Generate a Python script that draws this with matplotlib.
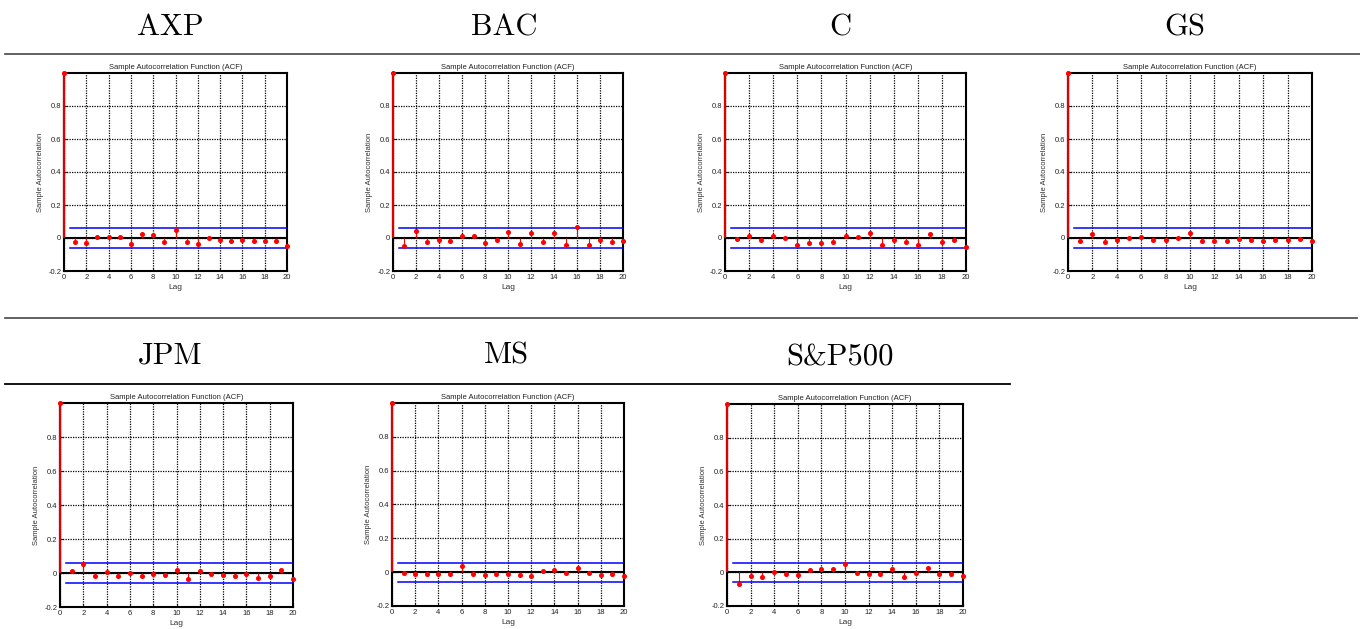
import matplotlib
matplotlib.use('Agg')
from matplotlib import pyplot as plt
from matplotlib.lines import Line2D

plt.rcParams['font.family'] = ['Liberation Sans', 'DejaVu Sans']

lags = list(range(0, 21))

names = ['AXP', 'BAC', 'C', 'GS', 'JPM', 'MS', 'S&P500']

acf_axp = [1.0, -0.022, -0.030, 0.004, 0.008, 0.008, -0.036, 0.024, 0.020, -0.026, 0.046,
           -0.026, -0.038, 0.002, -0.012, -0.016, -0.010, -0.018, -0.018, -0.018, -0.046]
acf_bac = [1.0, -0.048, 0.040, -0.026, -0.010, -0.016, 0.012, 0.012, -0.028, -0.010, 0.036,
           -0.034, 0.030, -0.022, 0.030, -0.040, 0.067, -0.044, -0.014, -0.022, -0.016]
acf_c = [1.0, -0.008, 0.010, -0.010, 0.012, 0.002, -0.040, -0.030, -0.032, -0.022, 0.012,
         0.006, 0.028, -0.040, -0.012, -0.022, -0.044, 0.026, -0.022, -0.012, -0.054]
acf_gs = [1.0, -0.020, 0.026, -0.022, -0.010, 0.000, 0.004, -0.010, -0.014, -0.002, 0.030,
          -0.020, -0.016, -0.018, -0.006, -0.010, -0.020, -0.014, -0.010, -0.006, -0.016]
acf_jpm = [1.0, 0.014, 0.052, -0.020, 0.006, -0.020, -0.002, -0.016, -0.006, -0.014, 0.016,
           -0.035, 0.014, -0.008, -0.014, -0.020, -0.006, -0.027, -0.018, 0.017, -0.037]
acf_ms = [1.0, -0.006, -0.008, -0.008, -0.008, -0.008, 0.037, -0.012, -0.018, -0.012, -0.010,
          -0.014, -0.021, 0.008, 0.014, -0.004, 0.023, -0.004, -0.014, -0.012, -0.020]
acf_sp = [1.0, -0.072, -0.022, -0.026, 0.004, -0.012, -0.016, 0.016, 0.020, 0.020, 0.050,
          -0.004, -0.008, -0.008, 0.020, -0.026, -0.004, 0.024, -0.008, -0.008, -0.020]

bounds = [0.058, 0.058, 0.058, 0.058, 0.057, 0.057, 0.058]

yticks = [-0.2, 0, 0.2, 0.4, 0.6, 0.8]
ytick_labels = ['-0.2', '0', '0.2', '0.4', '0.6', '0.8']
xticks = list(range(0, 21, 2))

W, H = 1360, 629

# pixel boxes: left, top, right, bottom
boxes = [(64, 73, 287, 271), (393, 73, 623, 271), (725, 73, 966, 271), (1068, 73, 1312, 271),
         (60, 403, 293, 607), (392, 403, 624, 606), (727, 404, 963, 606)]
# header centre x and baseline y
header_pos = [(170, 35), (504, 35), (840, 35), (1185, 35),
              (170, 363), (506, 363), (840, 365)]


def acf_panel(fig, box, acf, bound):
    l, t, r, b = box
    ax = fig.add_axes([l / W, 1 - b / H, (r - l) / W, (b - t) / H])
    ax.set_xlim(0, 20)
    ax.set_ylim(-0.2, 1.0)
    ax.set_xticks(xticks)
    ax.set_yticks(yticks)
    ax.set_yticklabels(ytick_labels)
    ax.grid(True, color='black', linestyle=(0, (1, 1)), linewidth=0.9)
    ax.tick_params(direction='in', length=2, labelsize=5.5, pad=2, colors='#222222')
    for s in ax.spines.values():
        s.set_linewidth(1.5)
    ax.axhline(0, color='black', lw=1.5, zorder=3)
    ax.vlines(lags[1:], 0, acf[1:], color='red', lw=0.8, zorder=4)
    ax.vlines(lags[0], 0, acf[0], color='#dd0000', lw=1.6, zorder=4, clip_on=False)
    ax.plot(lags, acf, 'o', color='red', markersize=2.6, zorder=5, clip_on=False)
    ax.plot([0.5, 20], [bound, bound], color='blue', lw=1.1, zorder=4)
    ax.plot([0.5, 20], [-bound, -bound], color='blue', lw=1.1, zorder=4)
    ax.set_title('Sample Autocorrelation Function (ACF)', fontsize=5.5, pad=3, color='#222222')
    ax.set_xlabel('Lag', fontsize=6, labelpad=2, color='#333333')
    ax.set_ylabel('Sample Autocorrelation', fontsize=5.5, labelpad=3, color='#333333')
    return ax


fig = plt.figure(figsize=(W / 100, H / 100), dpi=100)

all_acf = [acf_axp, acf_bac, acf_c, acf_gs, acf_jpm, acf_ms, acf_sp]
for i in range(len(names)):
    acf_panel(fig, boxes[i], all_acf[i], bounds[i])
    hx, hy = header_pos[i]
    fig.text(hx / W, 1 - hy / H, names[i], fontsize=22, family='cmr10',
             ha='center', va='baseline')

fig.add_artist(Line2D([5 / W, 1], [1 - 54 / H] * 2, transform=fig.transFigure,
                      color='#555555', lw=1.3))
fig.add_artist(Line2D([5 / W, 1357 / W], [1 - 318 / H] * 2, transform=fig.transFigure,
                      color='#555555', lw=1.3))
fig.add_artist(Line2D([5 / W, 1010 / W], [1 - 384 / H] * 2, transform=fig.transFigure,
                      color='black', lw=1.3))

fig.savefig('out.png', dpi=100)
plt.close()
